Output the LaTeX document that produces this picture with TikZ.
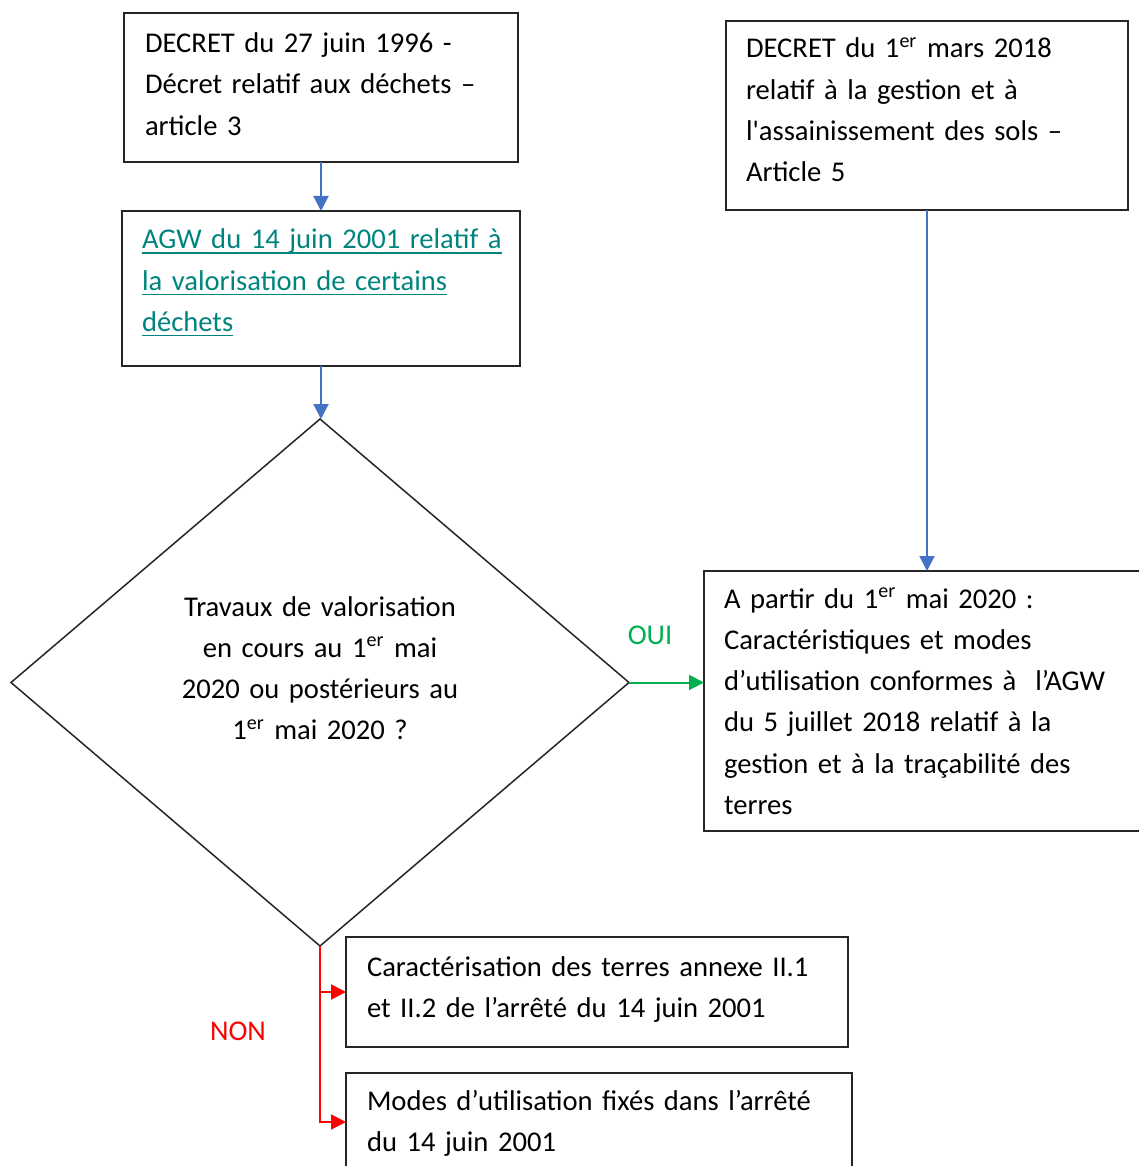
\documentclass[tikz,border=0pt]{standalone}
\usepackage{fontspec}
\setmainfont{Carlito}
\usetikzlibrary{shapes.geometric,arrows.meta}
\definecolor{arrowblue}{HTML}{4472C4}
\definecolor{yesgreen}{HTML}{00B050}
\definecolor{linkteal}{HTML}{00847E}
\definecolor{nored}{HTML}{FF0000}
\definecolor{boxline}{HTML}{262626}
\newcommand{\Ln}[1]{\mbox{#1}}
\newsavebox{\ulbox}
\newcommand{\Ul}[1]{\leavevmode\sbox{\ulbox}{#1}\rlap{\rule[-2.4pt]{\wd\ulbox}{0.7pt}}\usebox{\ulbox}}
\begin{document}
\begin{tikzpicture}[x=0.5pt,y=-0.5pt,
  every node/.style={font=\fontsize{14.3pt}{20.65pt}\selectfont},
  box/.style={draw=boxline, line width=0.75pt, anchor=north west, align=left, inner ysep=0pt, outer sep=0pt},
  decision/.style={draw=boxline, line width=0.75pt, diamond, inner sep=0pt, outer sep=0pt, align=center,
    minimum width=309pt, minimum height=263.5pt},
  varrow/.style={draw=arrowblue, line width=1pt, -{Triangle[length=7.5pt,width=7.5pt]}},
  garrow/.style={draw=yesgreen, line width=1pt, -{Triangle[length=7.5pt,width=7.5pt]}},
  rarrow/.style={draw=nored, line width=1pt, -{Triangle[length=7.5pt,width=7.5pt]}},
  lbl/.style={anchor=base, inner sep=0pt}]
\clip (0,0) rectangle (1139,1166);
\fill[white] (0,0) rectangle (1139,1166);

\node[box, inner xsep=10.5pt, text width=176pt, text height=19.75pt, text depth=54.75pt] (b1) at (124,13)
  {\Ln{DECRET du 27 juin 1996 -}\\\Ln{Décret relatif aux déchets –}\\\Ln{article 3}};

\node[box, inner xsep=10pt, text width=179pt, text height=19pt, text depth=58.5pt, text=linkteal] (b2) at (122,211)
  {\Ul{AGW du 14 juin 2001 relatif à}\\\Ul{la valorisation de certains}\\\Ul{déchets}};

\node[box, inner xsep=10pt, text width=181pt, text height=18.5pt, text depth=76pt] (b3) at (726,21)
  {\Ln{DECRET du 1\textsuperscript{er} mars 2018}\\\Ln{relatif à la gestion et à}\\\Ln{l\textquotesingle assainissement des sols –}\\\Ln{Article 5}};

\node[decision, text width=160pt, text height=10pt, text depth=76.5pt] (d) at (320,682.5)
  {\Ln{Travaux de valorisation}\\\Ln{en cours au 1\textsuperscript{er} mai}\\\Ln{2020 ou postérieurs au}\\\Ln{1\textsuperscript{er} mai 2020 ?}};

\node[box, inner xsep=10pt, text width=203pt, text height=18.5pt, text depth=111.5pt] (b4) at (704,571)
  {\Ln{A partir du 1\textsuperscript{er} mai 2020 :}\\\Ln{Caractéristiques et modes}\\\Ln{d’utilisation conformes à\ \ l’AGW}\\\Ln{du 5 juillet 2018 relatif à la}\\\Ln{gestion et à la traçabilité des}\\\Ln{terres}};

\node[box, inner xsep=10.5pt, text width=230pt, text height=19.5pt, text depth=35.5pt] (b5) at (346,937)
  {\Ln{Caractérisation des terres annexe II.1}\\\Ln{et II.2 de l’arrêté du 14 juin 2001}};

\node[box, inner xsep=10.5pt, text width=232pt, text height=18.5pt, text depth=30.5pt] (b6) at (346,1073)
  {\Ln{Modes d’utilisation fixés dans l’arrêté}\\\Ln{du 14 juin 2001}};

\node[lbl, text=yesgreen] (oui) at (650,644) {OUI};
\node[lbl, text=nored] (non) at (238,1040.5) {NON};

\draw[varrow] (b1.south) -- (b2.north);
\draw[varrow] (b2.south) -- (b2.south |- d.north);
\draw[varrow] (b3.south) -- (b3.south |- b4.north);
\draw[garrow] (d.east) -- (d.east -| b4.west);
\draw[rarrow] (d.south) |- (b6.west);
\draw[rarrow] (d.south |- b5.west) -- (b5.west);
\end{tikzpicture}
\end{document}
